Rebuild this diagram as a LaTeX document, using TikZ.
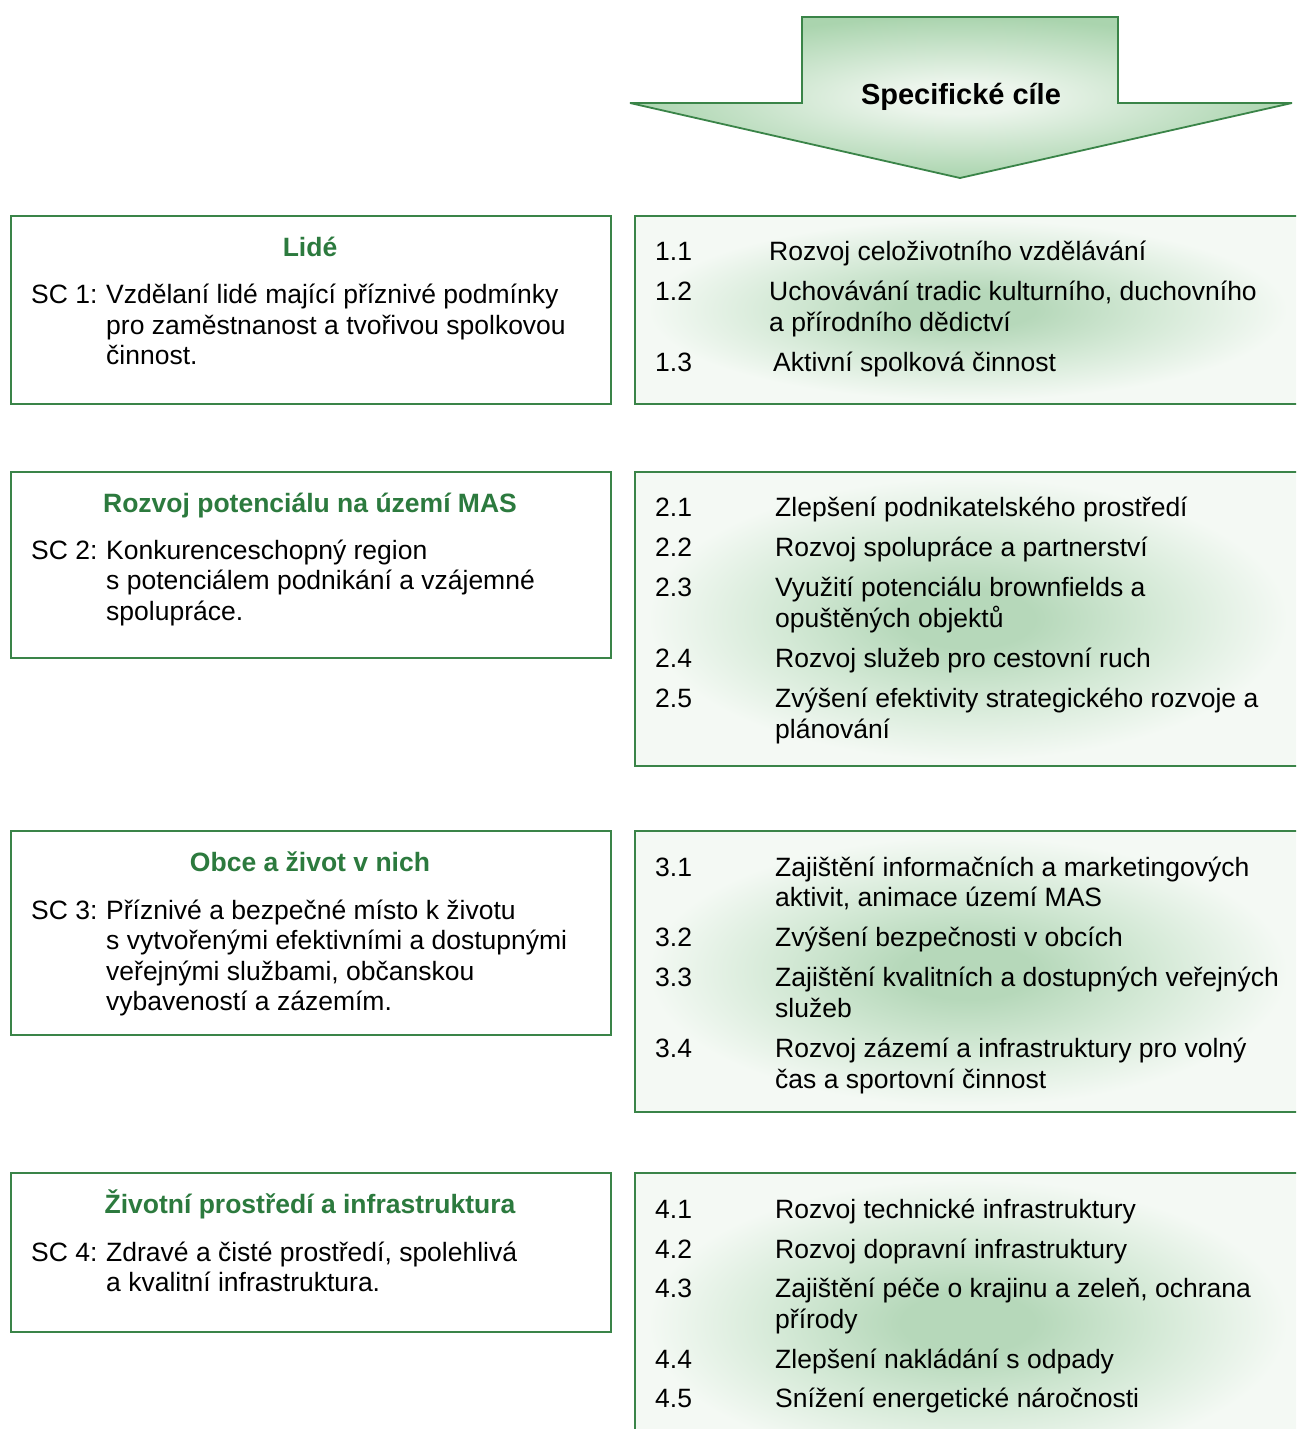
\documentclass[tikz,border=0pt]{standalone}
\usepackage{fontspec}
\setmainfont{Liberation Sans}
\definecolor{bordergreen}{RGB}{58,132,72}
\definecolor{titlegreen}{RGB}{44,122,62}
\definecolor{glowin}{RGB}{182,216,186}
\definecolor{glowmid}{RGB}{212,233,214}
\definecolor{glowout}{RGB}{244,249,244}
\definecolor{arrowedge}{RGB}{170,212,174}
\definecolor{arrowin}{RGB}{236,245,236}
\pgfdeclareradialshading{rglow}{\pgfpoint{0bp}{0bp}}{color(0bp)=(glowin); color(5bp)=(glowin); color(14bp)=(glowmid); color(24bp)=(glowout); color(50bp)=(glowout)}
\pgfdeclareradialshading{aglow}{\pgfpoint{0bp}{0bp}}{color(0bp)=(arrowin); color(5bp)=(arrowin); color(25bp)=(arrowedge); color(50bp)=(arrowedge)}
\begin{document}
\begin{tikzpicture}[x=1pt,y=-1pt,
  lbox/.style={draw=bordergreen, line width=1.8pt, fill=white, minimum width=600, anchor=north west, inner sep=0pt},
  rbox/.style={draw=bordergreen, line width=1.8pt, shading=rglow, minimum width=666, anchor=north west, inner sep=0pt},
  txt/.style={anchor=base west, inner sep=0pt, font=\fontsize{26.5}{30.5}\selectfont},
  ttl/.style={anchor=base, inner sep=0pt, font=\fontsize{26.5}{30.5}\selectfont\bfseries, text=titlegreen}]
\useasboundingbox (0,0) rectangle (1296,1429);
\clip (0,0) rectangle (1296,1429);
\fill[white] (0,0) rectangle (1296,1429);

% arrow
\draw[bordergreen, line width=1.8pt, shading=aglow, line join=miter, miter limit=3]
  (802,17) -- (1118,17) -- (1118,103) -- (1292,103) -- (960,178) -- (630,103) -- (802,103) -- cycle;
\node[anchor=base, inner sep=0pt, font=\fontsize{29}{32}\selectfont\bfseries] (sc) at (961,104) {Specifické cíle};

% left boxes
\node[lbox, minimum height=188] (l1) at (10,215) {};
\node[lbox, minimum height=186] (l2) at (10,471) {};
\node[lbox, minimum height=204] (l3) at (10,830) {};
\node[lbox, minimum height=159] (l4) at (10,1172) {};

% right boxes
\node[rbox, minimum height=188] (r1) at (634,215) {};
\node[rbox, minimum height=294] (r2) at (634,471) {};
\node[rbox, minimum height=281] (r3) at (634,830) {};
\node[rbox, minimum height=300] (r4) at (634,1172) {};

% left texts
\node[ttl] (t1) at (310,256) {Lidé};
\node[txt] (s1a) at (31,303) {SC 1:};
\node[txt] (s1b) at (106,303) {Vzdělaní lidé mající příznivé podmínky};
\node[txt] (s1c) at (106,334) {pro zaměstnanost a tvořivou spolkovou};
\node[txt] (s1d) at (106,364) {činnost.};

\node[ttl] (t2) at (310,512) {Rozvoj potenciálu na území MAS};
\node[txt] (s2a) at (31,559) {SC 2:};
\node[txt] (s2b) at (106,559) {Konkurenceschopný region};
\node[txt] (s2c) at (106,589) {s potenciálem podnikání a vzájemné};
\node[txt] (s2d) at (106,620) {spolupráce.};

\node[ttl] (t3) at (310,871) {Obce a život v nich};
\node[txt] (s3a) at (31,919) {SC 3:};
\node[txt] (s3b) at (106,919) {Příznivé a bezpečné místo k životu};
\node[txt] (s3c) at (106,949) {s vytvořenými efektivními a dostupnými};
\node[txt] (s3d) at (106,980) {veřejnými službami, občanskou};
\node[txt] (s3e) at (106,1010) {vybaveností a zázemím.};

\node[ttl] (t4) at (310,1213) {Životní prostředí a infrastruktura};
\node[txt] (s4a) at (31,1261) {SC 4:};
\node[txt] (s4b) at (106,1261) {Zdravé a čisté prostředí, spolehlivá};
\node[txt] (s4c) at (106,1291) {a kvalitní infrastruktura.};

% right box 1
\node[txt] (n11) at (655,260) {1.1};
\node[txt] (i11) at (769,260) {Rozvoj celoživotního vzdělávání};
\node[txt] (n12) at (655,300) {1.2};
\node[txt] (i12) at (769,300) {Uchovávání tradic kulturního, duchovního};
\node[txt] (i12b) at (769,331) {a přírodního dědictví};
\node[txt] (n13) at (655,371) {1.3};
\node[txt] (i13) at (773,371) {Aktivní spolková činnost};

% right box 2
\node[txt] (n21) at (655,516) {2.1};
\node[txt] (i21) at (775,516) {Zlepšení podnikatelského prostředí};
\node[txt] (n22) at (655,556) {2.2};
\node[txt] (i22) at (775,556) {Rozvoj spolupráce a partnerství};
\node[txt] (n23) at (655,596) {2.3};
\node[txt] (i23) at (775,596) {Využití potenciálu brownfields a};
\node[txt] (i23b) at (775,627) {opuštěných objektů};
\node[txt] (n24) at (655,667) {2.4};
\node[txt] (i24) at (775,667) {Rozvoj služeb pro cestovní ruch};
\node[txt] (n25) at (655,707) {2.5};
\node[txt] (i25) at (775,707) {Zvýšení efektivity strategického rozvoje a};
\node[txt] (i25b) at (775,738) {plánování};

% right box 3
\node[txt] (n31) at (655,876) {3.1};
\node[txt] (i31) at (775,876) {Zajištění informačních a marketingových};
\node[txt] (i31b) at (775,906) {aktivit, animace území MAS};
\node[txt] (n32) at (655,946) {3.2};
\node[txt] (i32) at (775,946) {Zvýšení bezpečnosti v obcích};
\node[txt] (n33) at (655,986) {3.3};
\node[txt] (i33) at (775,986) {Zajištění kvalitních a dostupných veřejných};
\node[txt] (i33b) at (775,1017) {služeb};
\node[txt] (n34) at (655,1057) {3.4};
\node[txt] (i34) at (775,1057) {Rozvoj zázemí a infrastruktury pro volný};
\node[txt] (i34b) at (775,1088) {čas a sportovní činnost};

% right box 4
\node[txt] (n41) at (655,1218) {4.1};
\node[txt] (i41) at (775,1218) {Rozvoj technické infrastruktury};
\node[txt] (n42) at (655,1258) {4.2};
\node[txt] (i42) at (775,1258) {Rozvoj dopravní infrastruktury};
\node[txt] (n43) at (655,1297) {4.3};
\node[txt] (i43) at (775,1297) {Zajištění péče o krajinu a zeleň, ochrana};
\node[txt] (i43b) at (775,1328) {přírody};
\node[txt] (n44) at (655,1368) {4.4};
\node[txt] (i44) at (775,1368) {Zlepšení nakládání s odpady};
\node[txt] (n45) at (655,1407) {4.5};
\node[txt] (i45) at (775,1407) {Snížení energetické náročnosti};
\end{tikzpicture}
\end{document}
